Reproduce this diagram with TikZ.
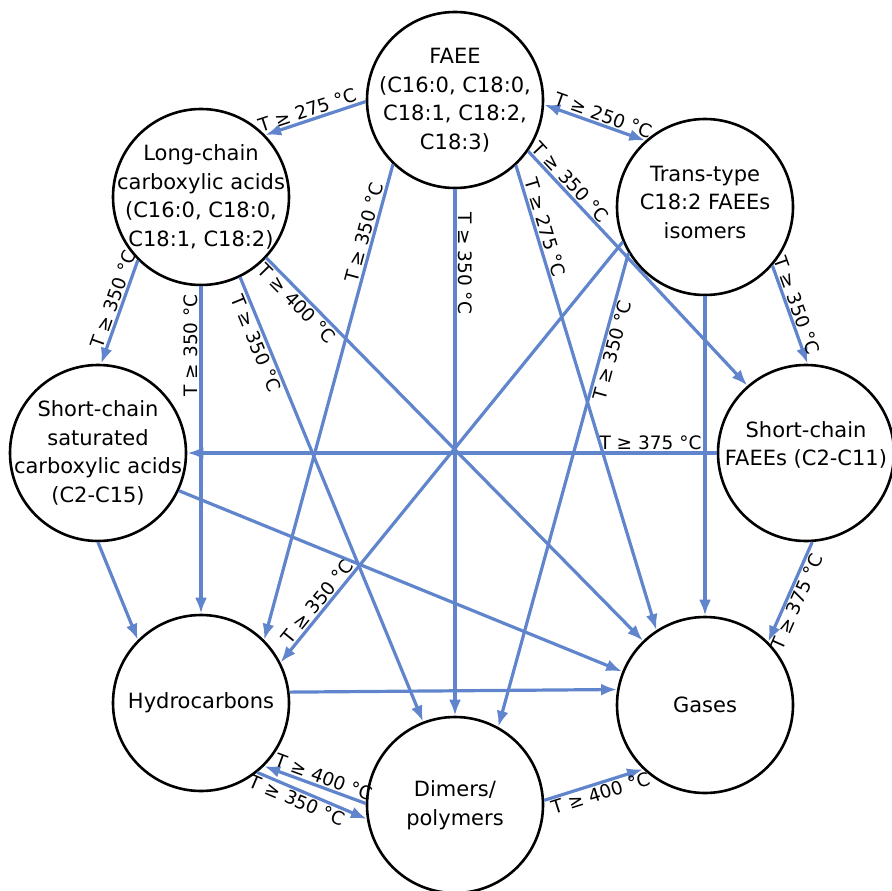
\documentclass[tikz,border=0pt]{standalone}
\usepackage{fontspec}
\setmainfont{DejaVu Sans}
\usetikzlibrary{arrows.meta}
\definecolor{edgeblue}{RGB}{96,133,204}
\begin{document}
\begin{tikzpicture}[x=1pt,y=-1pt,
  state/.style={circle, draw=black, line width=2.6pt, minimum size=176pt, inner sep=0pt},
  statetext/.style={align=center, font=\fontsize{21}{28.5}\selectfont, inner sep=0pt},
  flow/.style={draw=edgeblue, line width=3.2pt, -{Latex[length=16pt,width=12pt]}},
  bothflow/.style={draw=edgeblue, line width=3.2pt, {Latex[length=16pt,width=12pt]}-{Latex[length=16pt,width=12pt]}},
  tlab/.style={font=\fontsize{18.5}{20}\selectfont, inner sep=1.5pt},
  temp/.style={tlab, sloped}
]
\useasboundingbox (0,0) rectangle (891,891);

% circles
\node[state] (faee)  at (455,100) {};
\node[state] (lcca)  at (201,197) {};
\node[state] (trans) at (705,207) {};
\node[state] (scsa)  at (98,453)  {};
\node[state] (scf)   at (806,453) {};
\node[state] (hc)    at (201,703) {};
\node[state] (gas)   at (705,705) {};
\node[state] (dim)   at (455,805) {};

% texts
\node[statetext] (faeeT)  at (faee)  {FAEE\\(C16:0, C18:0,\\C18:1, C18:2,\\C18:3)};
\node[statetext] (lccaT)  at (lcca)  {Long-chain\\carboxylic acids\\(C16:0, C18:0,\\C18:1, C18:2)};
\node[statetext] (transT) at (705,202) {Trans-type\\C18:2 FAEEs\\isomers};
\node[statetext] (scsaT)  at (scsa)  {Short-chain\\saturated\\carboxylic acids\\(C2-C15)};
\node[statetext] (scfT)   at (806,445) {Short-chain\\FAEEs (C2-C11)};
\node[statetext] (hcT)    at (hc)    {Hydrocarbons};
\node[statetext] (gasT)   at (gas)   {Gases};
\node[statetext] (dimT)   at (dim)   {Dimers/\\polymers};

% connectors from FAEE
\draw[flow] (faee.181) -- node[temp,pos=0.55,above] {T ≥ 275 °C} (lcca.44);
\draw[bothflow] (faee.-3) -- node[temp,pos=0.55,above] {T ≥ 250 °C} (trans.132);
\draw[flow] (faee.226) -- node[temp,pos=0.15,above] {T ≥ 350 °C} (hc.45);
\draw[flow] (faee.-90) -- node[temp,pos=0.14,above] {T ≥ 350 °C} (dim.90);
\draw[flow] (faee.-47) -- node[temp,pos=0.14,above] {T ≥ 275 °C} (gas.123);
\draw[flow] (faee.-35) -- node[temp,pos=0.16,above] {T ≥ 350 °C} (scf.131);

% from trans-type
\draw[flow] (trans.203) -- node[temp,pos=0.87,above] {T ≥ 350 °C} (hc.27);
\draw[flow] (trans.211) -- node[temp,pos=0.2,below] {T ≥ 350 °C} (dim.61);
\draw[flow] (trans.-90) -- (gas.90);
\draw[flow] (trans.-41) -- node[temp,pos=0.44,above] {T ≥ 350 °C} (scf.89);

% from long-chain
\draw[flow] (lcca.225) -- node[temp,pos=0.41,above] {T ≥ 350 °C} (scsa.88);
\draw[flow] (lcca.-90) -- node[tlab,pos=0.18,rotate=90,anchor=south] {T ≥ 350 °C} (hc.90);
\draw[flow] (lcca.-64) -- node[temp,pos=0.14,below] {T ≥ 350 °C} (dim.111);
\draw[flow] (lcca.-43) -- node[temp,pos=0.10,below] {T ≥ 400 °C} (gas.134);

% from short-chain FAEEs
\draw[flow] (scf.180) -- node[temp,pos=0.125,above] {T ≥ 375 °C} (scsa.0);
\draw[flow] (scf.-86) -- node[temp,pos=0.56,below] {T ≥ 375 °C} (gas.45);

% from short-chain saturated
\draw[flow] (scsa.-90) -- (hc.135);
\draw[flow] (scsa.-25) -- (gas.158);

% bottom
\draw[flow] (hc.7) -- (gas.170);
\draw[flow] (dim.179) -- node[temp,pos=0.45,above] {T ≥ 400 °C} (hc.-45);
\draw[flow] (hc.-51) -- node[temp,pos=0.4,below] {T ≥ 350 °C} (dim.189);
\draw[flow] (dim.3) -- node[temp,pos=0.54,below] {T ≥ 400 °C} (gas.226);
\end{tikzpicture}
\end{document}
